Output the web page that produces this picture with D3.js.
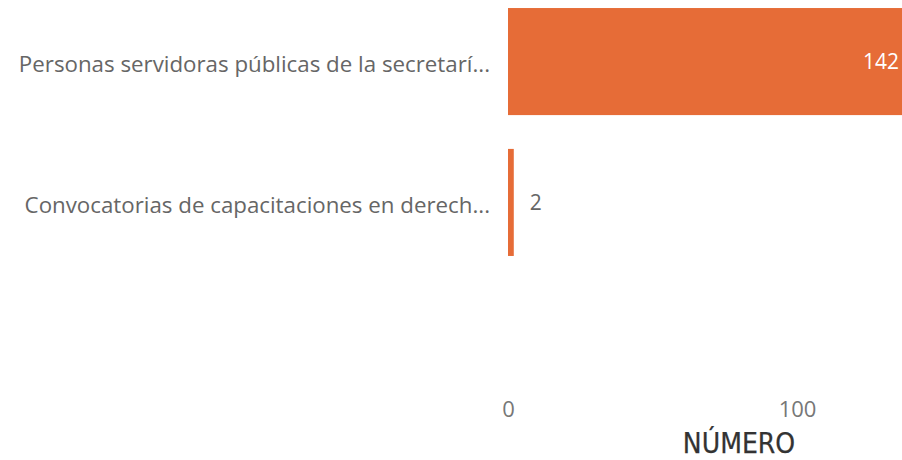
<!DOCTYPE html>
<html>
<head>
<meta charset="utf-8">
<script src="https://cdn.jsdelivr.net/npm/d3@7"></script>
<style>
  html, body { margin: 0; padding: 0; background: #fff; }
  svg { display: block; }
</style>
</head>
<body>
<svg id="chart" width="902" height="460"></svg>
<script>
// Categories and counts
const categories = [
  "Personas servidoras públicas de la secretarí...",
  "Convocatorias de capacitaciones en derech..."
];
const values = [142, 2];
const tickValues = [0, 100];
const axisTitle = "NÚMERO";

const svg = d3.select("#chart");
const W = 902, H = 460;

const x = d3.scaleLinear().domain([0, 100]).range([508, 797]);
const y = d3.scaleBand()
  .domain(categories)
  .range([0, 264])
  .paddingInner(0.24)
  .paddingOuter(0.057);

const data = categories.map((c, i) => ({ cat: c, val: values[i] }));

svg.append("clipPath").attr("id", "plotclip")
  .append("rect").attr("x", 0).attr("y", 0).attr("width", W).attr("height", H);

const barColor = "#E66C37";

svg.append("g").attr("clip-path", "url(#plotclip)")
  .selectAll("rect").data(data).join("rect")
  .attr("x", x(0))
  .attr("y", d => y(d.cat))
  .attr("width", d => x(d.val) - x(0))
  .attr("height", y.bandwidth())
  .attr("fill", barColor);

// Category labels
svg.append("g").selectAll("text").data(data).join("text")
  .attr("x", 490)
  .attr("y", d => y(d.cat) + y.bandwidth() / 2 + 10.5)
  .attr("text-anchor", "end")
  .attr("font-family", "'Open Sans', sans-serif")
  .attr("font-size", 22.3)
  .attr("fill", "#666")
  .text(d => d.cat);

// Data labels: inside the bar when it reaches past the plot edge, otherwise outside
svg.append("g").selectAll("text").data(data).join("text")
  .each(function(d) {
    const end = x(d.val);
    const inside = end > W;
    d3.select(this)
      .attr("x", inside ? W - 3 : end + 16)
      .attr("text-anchor", inside ? "end" : "start")
      .attr("fill", inside ? "#fff" : "#666");
  })
  .attr("y", d => y(d.cat) + y.bandwidth() / 2)
  .attr("dy", "0.35em")
  .attr("font-family", "'Open Sans', sans-serif")
  .attr("font-size", 21)
  .text(d => d.val);

// X axis
const xAxis = d3.axisBottom(x).tickValues(tickValues).tickSize(0).tickPadding(0);
const gx = svg.append("g").attr("transform", "translate(0,417)").call(xAxis);
gx.select(".domain").remove();
gx.selectAll("text")
  .attr("font-family", "'Open Sans', sans-serif")
  .attr("font-size", 22)
  .attr("fill", "#777")
  .attr("dy", 0);

svg.append("text")
  .attr("x", 739)
  .attr("y", 453)
  .attr("text-anchor", "middle")
  .attr("font-family", "'DejaVu Sans Condensed', 'DejaVu Sans', sans-serif")
  .attr("font-size", 28)
  .attr("fill", "#333")
  .attr("stroke", "#333")
  .attr("stroke-width", 0.25)
  .text(axisTitle);
</script>
</body>
</html>
